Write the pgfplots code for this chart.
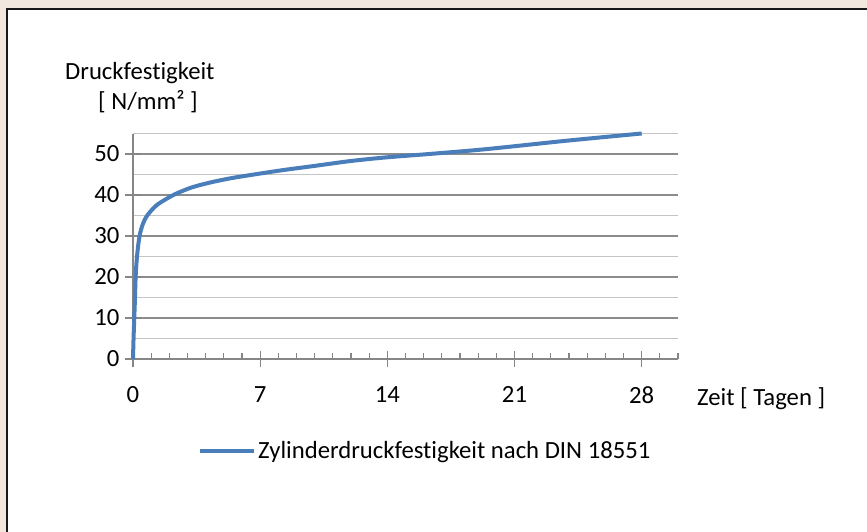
\documentclass[border=0pt]{standalone}
\usepackage{pgfplots}
\pgfplotsset{compat=1.18}
\usepackage{fontspec}
\setmainfont{Carlito}[Ligatures={NoCommon}]
\definecolor{bg}{RGB}{242,232,221}
\definecolor{serie}{HTML}{4A7EBB}
\definecolor{axgray}{HTML}{868686}
\definecolor{majgrid}{HTML}{8C8C8C}
\definecolor{mingrid}{HTML}{C4C4C4}
\newcommand{\bigfont}{\fontsize{24.7bp}{29bp}\selectfont}
\begin{document}
\begin{tikzpicture}[x=1bp,y=1bp]
\fill[bg] (0,0) rectangle (867,-532);
\useasboundingbox (0,0) rectangle (867,-532);
\fill[white] (7,-9) rectangle (867,-532);
\draw[black!90, line width=2bp] (7,-532) -- (7,-9) -- (867,-9);
\begin{axis}[
  at={(133bp,-359bp)}, anchor=south west,
  scale only axis, width=545bp, height=225.5bp,
  xmin=0, xmax=30, ymin=0, ymax=55,
  axis lines*=left,
  axis line style={draw=axgray, line width=1.3bp},
  xtick={0,7,14,21,28}, minor xtick={1,...,30},
  ytick={0,10,...,50}, minor ytick={5,15,...,55},
  ymajorgrids, yminorgrids,
  major grid style={draw=majgrid, line width=1.3bp},
  minor grid style={draw=mingrid, line width=1.3bp},
  tick align=center, major tick length=16bp, minor tick length=6bp,
  tick style={draw=axgray, line width=1.3bp},
  minor x tick style={yshift=3bp},
  minor y tick style={draw=none},
  /pgf/number format/assume math mode=true,
  ticklabel style={font=\bigfont},
  xticklabel style={yshift=-16bp},
  yticklabel style={xshift=-2bp},
  clip=false,
  legend style={at={(axis description cs:0.1193,-0.4071)}, anchor=west,
    draw=none, fill=none, inner sep=0pt, font=\bigfont,
    legend cell align=left},
  legend image code/.code={\draw[#1] (0bp,0bp) -- (54bp,0bp);},
]
\addplot[serie, line width=4bp, smooth, tension=0.5] coordinates {
(0,0) (0.03,5) (0.07,10) (0.11,15) (0.145,20) (0.22,25) (0.36,30)
(0.55,33) (0.78,35) (1.27,37.4) (1.82,39.0) (2.36,40.3) (3.2,41.8) (4.2,43.0)
(5.4,44.1) (6.8,45.1) (8.3,46.1) (10,47.1) (12,48.3) (14,49.2)
(16.3,50) (19,51.0) (21,51.9) (24,53.3) (28,55)
};
\addlegendentry{Zylinderdruckfestigkeit nach DIN 18551}
\end{axis}
\node[anchor=base west, inner sep=0pt, font=\bigfont] at (65,-80) {Druckfestigkeit};
\node[anchor=base west, inner sep=0pt, font=\bigfont] at (98,-110) {[ N/mm² ]};
\node[anchor=base west, inner sep=0pt, font=\bigfont] at (697,-405) {Zeit [ Tagen ]};
\end{tikzpicture}
\end{document}
